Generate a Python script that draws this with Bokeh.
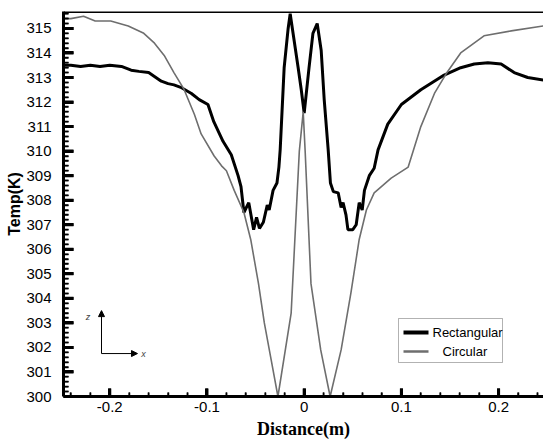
from bokeh.plotting import figure
from bokeh.models import (Range1d, SingleIntervalTicker, CustomJSTickFormatter,
                          Span, Label, Arrow, NormalHead, ColumnDataSource, BoxAnnotation)
from bokeh.embed import file_html
from bokeh.resources import INLINE

# ---------------- data ----------------
rect_x = [-0.25, -0.24, -0.23, -0.22, -0.21, -0.20, -0.188, -0.178, -0.17, -0.16, -0.147, -0.14, -0.134,
          -0.127, -0.116, -0.108, -0.099, -0.093, -0.0835, -0.075, -0.068, -0.065, -0.062, -0.057, -0.052,
          -0.049, -0.046, -0.042, -0.038, -0.036, -0.032, -0.028, -0.026, -0.0247, -0.0206, -0.0165, -0.0144,
          -0.0103, -0.0062, -0.003, 0.0, 0.005, 0.009, 0.0134, 0.0175, 0.0206, 0.0247, 0.027, 0.030, 0.035,
          0.038, 0.040, 0.043, 0.045, 0.050, 0.0535, 0.0566, 0.0597, 0.062, 0.067, 0.072, 0.076, 0.086,
          0.100, 0.12, 0.144, 0.161, 0.175, 0.189, 0.2026, 0.216, 0.23, 0.246]
rect_t = [313.5, 313.5, 313.45, 313.5, 313.45, 313.5, 313.45, 313.3, 313.25, 313.2, 312.85, 312.75, 312.7,
          312.6, 312.35, 312.1, 311.9, 311.2, 310.4, 309.85, 309.0, 308.55, 307.5, 307.9, 306.8,
          307.3, 306.85, 307.1, 307.8, 307.6, 308.4, 308.7, 309.35, 310.05, 313.4, 315.0, 315.6,
          314.5, 313.4, 312.5, 311.55, 313.4, 314.8, 315.2, 314.1, 312.1, 310.05, 308.7, 308.35, 308.3,
          307.7, 307.9, 307.4, 306.8, 306.8, 307.0, 307.9, 307.6, 308.4, 309.0, 309.3, 310.05, 311.1,
          311.9, 312.5, 313.1, 313.4, 313.55, 313.6, 313.55, 313.2, 313.0, 312.9]

circ_x = [-0.25, -0.24, -0.227, -0.215, -0.199, -0.181, -0.165, -0.154, -0.144, -0.134, -0.124, -0.113,
          -0.106, -0.0926, -0.085, -0.08, -0.072, -0.062, -0.055, -0.047, -0.041, -0.034, -0.027, -0.0134,
          -0.005, -0.001, 0.001, 0.007, 0.017, 0.0267, 0.038, 0.048, 0.0566, 0.064, 0.072, 0.0895, 0.107,
          0.12, 0.134, 0.146, 0.161, 0.185, 0.213, 0.246]
circ_t = [315.4, 315.4, 315.5, 315.3, 315.3, 315.1, 314.8, 314.4, 313.9, 313.2, 312.55, 311.5,
          310.7, 309.8, 309.4, 309.2, 308.4, 307.5, 306.4, 304.6, 303.0, 301.5, 300.0, 303.4,
          310.0, 311.6, 310.0, 304.6, 301.9, 300.0, 301.9, 304.2, 306.4, 307.6, 308.3, 308.9, 309.35,
          311.0, 312.35, 313.15, 314.0, 314.7, 314.9, 315.1]

series_names = ["Rectangular", "Circular"]
series_colors = ["black", "#6e6e6e"]
series_widths = [3, 1.6]
x_label = "Distance(m)"
y_label = "Temp(K)"
x_limits = (-0.2476, 0.2462)
y_limits = (300.0, 315.69)
x_major = [-0.2, -0.1, 0.0, 0.1, 0.2]
y_major = list(range(300, 316))

# minor tick positions (decoration only)
x_minor = [round(-0.24 + 0.02 * i, 4) for i in range(25) if (i + 3) % 5 != 0]
y_minor = [round(300 + 0.2 * i, 2) for i in range(79) if (i % 5) != 0]

W, H = 543, 443
BL, BR, BT, BB = 63, 0, 11, 47
px_x = (x_limits[1] - x_limits[0]) / (W - BL - BR)   # data units per pixel, x
px_y = (y_limits[1] - y_limits[0]) / (H - BT - BB)   # data units per pixel, y

def dx(px):   # canvas pixel -> data x
    return x_limits[0] + (px - BL) * px_x

def dy(py):   # canvas pixel -> data y
    return y_limits[1] - (py - BT) * px_y

# ---------------- figure ----------------
p = figure(width=W, height=H, output_backend="svg", toolbar_location=None,
           x_range=Range1d(*x_limits), y_range=Range1d(*y_limits),
           min_border_left=BL, min_border_right=BR, min_border_top=BT, min_border_bottom=BB)
p.outline_line_color = None
p.grid.visible = False

r1 = p.line(rect_x, rect_t, line_color=series_colors[0], line_width=series_widths[0])
r2 = p.line(circ_x, circ_t, line_color=series_colors[1], line_width=series_widths[1])

# top frame line
p.add_layout(Span(location=y_limits[1], dimension="width", line_color="black", line_width=3))

# inward ticks as head-less arrow annotations
x0, y0 = x_limits[0], y_limits[0]
def tick_set(xs0, ys0, xs1, ys1, width):
    src = ColumnDataSource(dict(xs=xs0, ys=ys0, xe=xs1, ye=ys1))
    p.add_layout(Arrow(end=None, x_start="xs", y_start="ys", x_end="xe", y_end="ye", source=src,
                       line_color="#000000", line_width=width))

tick_set([x0] * len(y_major), y_major, [x0 + 10 * px_x] * len(y_major), y_major, 3)
tick_set([x0] * len(y_minor), y_minor, [x0 + 5 * px_x] * len(y_minor), y_minor, 1.5)
tick_set(x_major, [y0] * len(x_major), x_major, [y0 + 8 * px_y] * len(x_major), 3)
tick_set(x_minor, [y0] * len(x_minor), x_minor, [y0 + 4 * px_y] * len(x_minor), 1.5)

# axes
xa = p.xaxis[0]
xa.ticker = SingleIntervalTicker(interval=0.1, num_minor_ticks=5)
xa.formatter = CustomJSTickFormatter(code="if (Math.abs(tick) < 1e-9) return '0'; return tick.toFixed(1);")
ya = p.yaxis[0]
ya.ticker = SingleIntervalTicker(interval=1, num_minor_ticks=5)

for ax in (xa, ya):
    ax.axis_line_width = 3
    ax.axis_line_color = "#000000"
    ax.major_tick_out = 0
    ax.minor_tick_out = 0
    ax.major_tick_line_color = "#000000"
    ax.minor_tick_line_color = "#000000"
    ax.major_tick_line_width = 3
    ax.minor_tick_line_width = 1.5
    ax.major_label_text_font = "Liberation Sans"
    ax.major_label_text_font_size = "15px"
    ax.major_label_text_color = "black"
    ax.axis_label_text_color = "black"
    ax.axis_label_text_font_style = "bold"

xa.major_tick_in = 8
xa.minor_tick_in = 4
xa.major_label_standoff = 5
xa.axis_label = x_label
xa.axis_label_text_font = "Liberation Serif"
xa.axis_label_text_font_size = "18px"
xa.axis_label_standoff = 4

ya.major_tick_in = 10
ya.minor_tick_in = 5
ya.major_label_standoff = 12
ya.axis_label = y_label
ya.axis_label_text_font = "Liberation Sans"
ya.axis_label_text_font_size = "16px"
ya.axis_label_standoff = 0

# legend, drawn by hand (box, sample lines, labels)
p.add_layout(BoxAnnotation(left=dx(398), right=dx(502), top=dy(318), bottom=dy(362),
                           fill_color=None, fill_alpha=0, line_color="black", line_width=1))
legend_rows_px = [332, 351]
legend_text_px = [432, 442]
for name, col, wid, ry, tx in zip(series_names, series_colors, series_widths, legend_rows_px, legend_text_px):
    p.line([dx(403), dx(428)], [dy(ry), dy(ry)], line_color=col, line_width=wid + 1)
    p.add_layout(Label(x=dx(tx), y=dy(ry), text=name, text_font="Liberation Sans",
                       text_font_size="13px", text_color="black", text_baseline="middle"))

# small coordinate-system glyph (z up, x right)
ox, oy = -0.2085, 301.75
z_tip, x_tip = 303.5, -0.1715
p.add_layout(Arrow(end=NormalHead(size=6, fill_color="black", line_color="black"),
                   x_start=ox, y_start=oy, x_end=ox, y_end=z_tip,
                   line_color="black", line_width=1))
p.add_layout(Arrow(end=NormalHead(size=6, fill_color="black", line_color="black"),
                   x_start=ox, y_start=oy, x_end=x_tip, y_end=oy,
                   line_color="black", line_width=1))
p.add_layout(Label(x=-0.2225, y=303.22, text="z", text_font_size="9px", text_font_style="italic",
                   text_color="#444444", text_align="center", text_baseline="middle"))
p.add_layout(Label(x=-0.1653, y=oy, text="x", text_font_size="9px", text_font_style="italic",
                   text_color="#444444", text_align="center", text_baseline="middle"))

open("out.html", "w").write(file_html(p, INLINE))
